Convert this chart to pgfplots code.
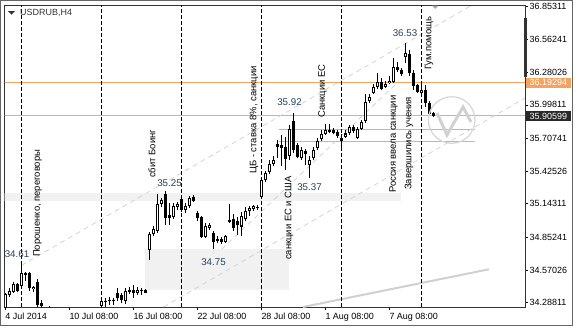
\documentclass[border=0pt]{standalone}
\usepackage{fontspec}
\setmainfont{Liberation Sans}
\usepackage{pgfplots}
\pgfplotsset{compat=1.18}
\usepackage{pgfplotstable}
\definecolor{lbl}{HTML}{2B3F5C}
\definecolor{shade}{HTML}{F1F1F1}
\definecolor{ask}{HTML}{F4A460}
\definecolor{tl}{HTML}{D0D0D0}
\definecolor{hl}{HTML}{B8B8B8}
\definecolor{bidbox}{HTML}{282828}

\pgfplotstableread{
i o h l c
0 34.240 34.370 34.220 34.361
1 34.355 34.413 34.340 34.389
2 34.383 34.465 34.375 34.447
3 34.447 34.458 34.385 34.392
4 34.435 34.610 34.426 34.542
5 34.528 34.554 34.476 34.541
6 34.542 34.554 34.389 34.413
7 34.406 34.432 34.383 34.426
8 34.470 34.490 34.250 34.268
9 34.283 34.312 34.220 34.260
11 34.210 34.258 34.150 34.180
24 34.260 34.311 34.240 34.303
25 34.294 34.326 34.253 34.303
26 34.300 34.340 34.268 34.310
27 34.305 34.326 34.270 34.300
28 34.369 34.413 34.303 34.326
29 34.355 34.372 34.285 34.312
30 34.303 34.415 34.277 34.389
31 34.381 34.424 34.363 34.398
32 34.398 34.441 34.329 34.368
33 34.372 34.424 34.355 34.398
34 34.389 34.415 34.355 34.398
35 34.398 34.406 34.372 34.376
36 34.744 34.899 34.657 34.882
37 34.882 34.951 34.865 34.925
38 34.908 35.228 34.891 35.141
39 35.141 35.193 35.115 35.176
40 35.224 35.250 34.960 35.020
41 35.046 35.150 34.960 35.020
42 35.025 35.150 35.016 35.124
43 35.115 35.159 35.089 35.141
44 35.185 35.202 35.072 35.089
45 35.089 35.150 35.064 35.127
46 35.127 35.213 35.107 35.196
47 35.205 35.219 35.159 35.167
48 35.064 35.081 34.994 35.023
49 35.025 35.038 34.847 34.860
50 34.860 34.975 34.845 34.951
51 34.934 34.977 34.917 34.960
52 34.891 34.908 34.750 34.813
53 34.839 34.865 34.802 34.822
54 34.835 34.856 34.800 34.817
55 34.817 34.873 34.805 34.865
56 34.986 35.141 34.981 35.003
57 35.012 35.059 34.908 34.930
58 34.994 35.029 34.873 34.956
59 34.947 35.072 34.865 35.038
60 35.012 35.115 34.994 35.077
61 35.077 35.128 35.038 35.111
62 35.098 35.133 35.085 35.120
63 35.115 35.133 35.089 35.108
64 35.206 35.357 35.197 35.349
65 35.345 35.431 35.332 35.409
66 35.414 35.522 35.405 35.487
67 35.483 35.556 35.474 35.522
68 35.664 35.699 35.539 35.638
69 35.651 35.738 35.470 35.626
70 35.630 35.721 35.435 35.530
71 35.556 35.824 35.522 35.790
72 35.859 35.925 35.582 35.608
73 35.651 35.669 35.535 35.552
74 35.539 35.634 35.522 35.608
75 35.604 35.617 35.479 35.578
76 35.479 35.556 35.370 35.522
77 35.539 35.634 35.522 35.608
78 35.626 35.712 35.608 35.686
79 35.703 35.781 35.686 35.747
80 35.747 35.833 35.738 35.781
81 35.768 35.833 35.755 35.785
82 35.785 35.798 35.747 35.755
83 35.764 35.777 35.716 35.729
84 35.716 35.747 35.626 35.682
85 35.721 35.781 35.712 35.751
86 35.755 35.824 35.738 35.807
87 35.807 35.824 35.755 35.772
88 35.712 35.807 35.703 35.794
89 35.794 35.868 35.781 35.850
90 35.855 36.092 35.846 36.023
91 36.028 36.092 36.015 36.066
92 36.105 36.179 36.092 36.153
93 36.153 36.270 36.136 36.196
94 36.196 36.231 36.127 36.136
95 36.153 36.205 36.144 36.183
96 36.187 36.244 36.179 36.209
97 36.200 36.404 36.187 36.326
98 36.326 36.369 36.283 36.296
99 36.296 36.317 36.252 36.265
100 36.408 36.530 36.360 36.451
101 36.438 36.477 36.248 36.270
102 36.270 36.300 36.127 36.162
103 36.170 36.179 36.105 36.114
104 36.105 36.183 36.092 36.131
105 36.131 36.170 35.984 36.015
106 36.015 36.032 35.911 35.919
107 35.924 35.937 35.894 35.906
}\candles

\begin{document}
\begin{tikzpicture}
\begin{axis}[
  at={(4.5bp,-307bp)}, anchor=south west,
  width=520.5bp, height=302bp, scale only axis,
  xmin=-0.2, xmax=129.925, ymin=34.2510, ymax=36.8618,
  axis line style={draw=black!80, line width=0.8bp},
  xtick={0,16,32,48,64,80,96},
  xticklabels={4 Jul 2014,10 Jul 08:00,16 Jul 08:00,22 Jul 08:00,28 Jul 08:00,1 Aug 08:00,7 Aug 08:00},
  ytick={34.28811,34.57026,34.85241,35.14311,35.42526,35.70741,35.99811,36.28026,36.56241,36.85311},
  yticklabels={34.28811,34.57026,34.85241,35.14311,35.42526,35.70741,35.99811,36.28026,36.56241,36.85311},
  xtick pos=left, ytick pos=right, yticklabel pos=right,
  tick align=outside, major tick length=3bp,
  tick style={black, line width=0.8bp},
  xticklabel style={anchor=north west, inner sep=0pt, font=\fontsize{9}{10}\selectfont, yshift=-3bp},
  yticklabel style={anchor=west, inner sep=0pt, font=\fontsize{9}{10}\selectfont, xshift=1.5bp},
]
% shaded zones
\addplot[fill=shade, draw=none, mark=none, forget plot] coordinates {(-1,35.170) (98.9,35.170) (98.9,35.239) (-1,35.239)};
\addplot[fill=shade, draw=none, mark=none, forget plot] coordinates {(34.93,34.398) (70.93,34.398) (70.93,34.750) (34.93,34.750)};
% horizontal lines
\addplot[ask, line width=1bp, mark=none, forget plot] coordinates {(-1,36.19294) (131,36.19294)};
\addplot[hl, line width=1bp, mark=none, forget plot] coordinates {(-1,35.90599) (131,35.90599)};
\addplot[hl, line width=1bp, mark=none, forget plot] coordinates {(68.4,35.787) (117.4,35.787)};
\addplot[hl, line width=1bp, mark=none, forget plot] coordinates {(68.4,35.684) (117.4,35.684)};
% trend lines
\addplot[tl, line width=0.7bp, dash pattern=on 5bp off 4bp, mark=none, forget plot] coordinates {(4,34.610) (116.7,36.8618)};
\addplot[tl, line width=0.7bp, dash pattern=on 5bp off 4bp, mark=none, forget plot] coordinates {(39.55,34.251) (129.925,36.058)};
\addplot[tl, line width=0.7bp, dash pattern=on 5bp off 4bp, mark=none, forget plot] coordinates {(54.1,34.750) (97.4,36.170)};
\addplot[tl, line width=2bp, mark=none, forget plot] coordinates {(74.4,34.251) (120.9,34.577)};
% period separators
\pgfplotsinvokeforeach{4,24,44,64,84,104}{
  \addplot[black, line width=0.8bp, dash pattern=on 4bp off 2bp, mark=none, forget plot] coordinates {(#1,34.2) (#1,36.9)};
}
% wicks
\addplot[black, line width=1bp, mark=none, forget plot,
  quiver={u=0, v=\thisrow{h}-\thisrow{l}}]
  table[x=i, y=l] {\candles};
% bodies
\addplot[black, line width=3.4bp, mark=none, forget plot,
  quiver={u=0, v={max(abs(\thisrow{c}-\thisrow{o}),0.009)}}]
  table[x=i, y expr={min(\thisrow{o},\thisrow{c})}] {\candles};
% hollow interiors of rising candles
\addplot[white, line width=1.4bp, mark=none, forget plot,
  restrict expr to domain={\thisrow{c}-\thisrow{o}}{0.02:10},
  quiver={u=0, v=\thisrow{c}-\thisrow{o}-0.0174}]
  table[x=i, y expr={\thisrow{o}+0.0087}] {\candles};
% event labels
\begin{scope}[every node/.style={rotate=90, anchor=west, inner sep=0pt, font=\fontsize{9.5}{11}\selectfont, text=black}]
\node at (8.05,34.683) {Порошенко, переговоры};
\node at (36.675,35.366) {сбит Боинг};
\node at (62.2,35.401) {ЦБ - ставка 8\%, санкции};
\node at (70.925,34.657) {санкции ЕС и США};
\node at (79.3,35.885) {Санкции ЕС};
\node at (97.05,35.2365) {Россия ввела санкции};
\node at (100.925,35.262) {Завершились учения};
\node at (105.925,36.300) {Гум.помощь};
\end{scope}
\begin{scope}[every node/.style={inner sep=0pt, font=\fontsize{9.8}{11}\selectfont, text=lbl}]
\node at (2.925,34.709) {34.61};
\node at (41.05,35.318) {35.25};
\node at (52.05,34.640) {34.75};
\node at (76.05,35.284) {35.37};
\node at (71.05,36.019) {35.92};
\node at (99.925,36.620) {36.53};
\end{scope}
\end{axis}
\begin{scope}[x=1bp, y=-1bp]
\draw[black!60, line width=1bp] (0.5,0.5) rectangle (572,325.5);
% logo watermark
\draw[black!15, line width=1.3bp] (451.7,120) circle (23.3);
\draw[black!18, line width=3bp, line join=miter] (437,113) -- (447,135) -- (463,107) -- (471,122);
% shift marker
\fill[black!35] (432,5.5) -- (438.5,5.5) -- (435.25,9) -- cycle;
% dark bar at the price scale
\fill[black!80] (523.5,18) rectangle (527,77);
% symbol caption
\fill[black!80] (8,11) -- (15,11) -- (11.5,14.5) -- cycle;
\node[anchor=west, inner sep=0pt, font=\fontsize{9}{10}\selectfont, text=black!80] at (20,13) {USDRUB,H4};
% price boxes
\fill[ask] (526,77.5) rectangle (571,88);
\node[anchor=west, inner sep=0pt, font=\fontsize{9}{10}\selectfont, text=white] at (529.5,82.8) {36.19294};
\fill[bidbox] (526,111.3) rectangle (571,120.8);
\node[anchor=west, inner sep=0pt, font=\fontsize{9}{10}\selectfont, text=white] at (529.5,116) {35.90599};
\path[use as bounding box] (0,0) rectangle (576,329);
\end{scope}
\end{tikzpicture}
\end{document}
